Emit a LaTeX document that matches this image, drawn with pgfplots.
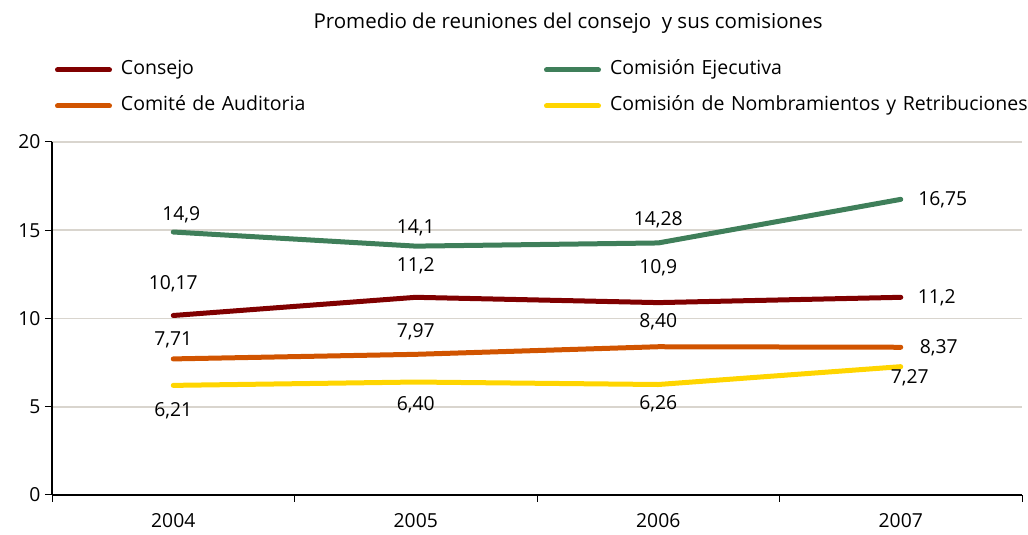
\documentclass[border=0pt]{standalone}
\usepackage{fontspec}
\setmainfont{Open Sans}
\usepackage{pgfplots}
\usepackage{pgfplotstable}
\pgfplotsset{compat=1.18}

\definecolor{cConsejo}{HTML}{800000}
\definecolor{cEjec}{HTML}{3F7F5A}
\definecolor{cAudit}{HTML}{D15400}
\definecolor{cNomb}{HTML}{FFD500}
\definecolor{gridgray}{HTML}{D9D5CE}

\pgfplotstableread{
x y label dx dy
0 10.17 10,17 0 32
1 11.2 11,2 0 32
2 10.9 10,9 0 35
3 11.2 11,2 36 0
}\consejo
\pgfplotstableread{
x y label dx dy
0 14.9 14,9 8 17
1 14.1 14,1 0 18
2 14.28 14,28 0 23
3 16.75 16,75 42 0
}\ejecutiva
\pgfplotstableread{
x y label dx dy
0 7.71 7,71 0 19
1 7.97 7,97 0 23
2 8.40 8,40 0 25
3 8.37 8,37 38 0
}\auditoria
\pgfplotstableread{
x y label dx dy
0 6.21 6,21 0 -25
1 6.40 6,40 0 -23
2 6.26 6,26 0 -19
3 7.27 7,27 9 -11
}\nombramientos

\newcommand{\fs}{\fontsize{19.3}{22}\selectfont}
\newcommand{\fl}{\fontsize{19.5}{22}\selectfont}
\newcommand{\ft}{\fontsize{20.5}{23}\selectfont}

\pgfplotsset{
  serie/.style={line width=5pt, line cap=round, line join=round, mark=none,
    legend image code/.code={%
      \path[draw=none, fill=none] (0pt,0pt) -- (66pt,0pt);
      \draw[##1, line width=5pt, line cap=round] (2.5pt,0pt) -- (54.5pt,0pt);}},
}

\begin{document}
\begin{tikzpicture}
\path[use as bounding box] (0,0) rectangle (1028pt,535pt);
\begin{axis}[
  scale only axis, width=970pt, height=353pt,
  at={(52pt,40pt)}, anchor=south west,
  xmin=-0.5, xmax=3.5, ymin=0, ymax=20,
  axis lines*=left,
  axis line style={black, line width=1.1pt},
  xtick={0,1,2,3}, xticklabels={2004,2005,2006,2007},
  minor xtick={-0.5,0.5,1.5,2.5,3.5},
  ytick={0,5,10,15,20},
  ymajorgrids,
  grid style={gridgray, line width=1.6pt},
  tick align=outside,
  major tick length=7pt, minor tick length=7pt,
  major x tick style={draw=none},
  minor x tick style={black, line width=1pt},
  major y tick style={black, line width=1pt},
  tick label style={font=\fs, text=black},
  /pgf/number format/assume math mode=true,
  xticklabel style={yshift=-8pt},
  yticklabel style={xshift=-1pt},
  title={Promedio de reuniones del consejo\ \ y sus comisiones},
  title style={at={(axis description cs:0.532,1)}, anchor=center, yshift=113pt, font=\ft},
  legend columns=2,
  legend cell align=left,
  legend style={draw=none, fill=none, inner sep=0pt, outer sep=0pt,
    at={(axis description cs:0,1)}, anchor=north west, xshift=3pt, yshift=81.5pt,
    column sep=0pt, row sep=17pt,
    nodes={inner sep=0pt, outer sep=0pt, text height=14pt, text depth=5pt, text width=423pt, font=\fl}},
  point meta=explicit symbolic,
  nodes near coords,
  visualization depends on={\thisrow{dx} \as \dx},
  visualization depends on={\thisrow{dy} \as \dy},
  every node near coord/.append style={anchor=center, xshift=\dx pt, yshift=\dy pt, text=black, font=\fs},
  clip=false,
]
\addplot[cConsejo, serie] table[x=x, y=y, meta=label] {\consejo};
\addlegendentry{Consejo}
\addplot[cEjec, serie] table[x=x, y=y, meta=label] {\ejecutiva};
\addlegendentry{Comisión Ejecutiva}
\addplot[cAudit, serie] table[x=x, y=y, meta=label] {\auditoria};
\addlegendentry{Comité de Auditoria}
\addplot[cNomb, serie] table[x=x, y=y, meta=label] {\nombramientos};
\addlegendentry{Comisión de Nombramientos y Retribuciones}
\end{axis}
\end{tikzpicture}
\end{document}
